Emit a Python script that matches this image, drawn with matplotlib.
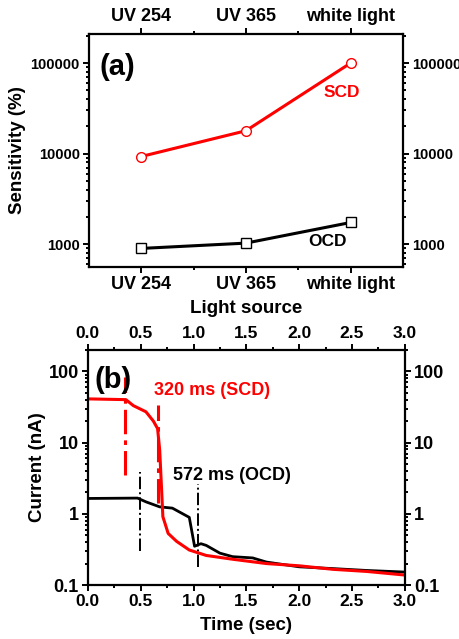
import numpy as np
import matplotlib
matplotlib.use('Agg')
import matplotlib.pyplot as plt

plt.rcParams['font.family'] = ['Liberation Sans', 'DejaVu Sans']
plt.rcParams['font.weight'] = 'bold'

# panel (a): sensitivity per light source
sources = ['UV 254', 'UV 365', 'white light']
scd_sens = [9300, 17900, 100000]
ocd_sens = [900, 1030, 1740]

# panel (b): current transients
scd_t = [0.0, 0.36, 0.43, 0.55, 0.62, 0.66, 0.68, 0.695, 0.71, 0.76, 0.84, 0.96,
         1.12, 1.37, 1.69, 2.0, 2.32, 2.64, 3.0]
scd_i = [41, 40, 33, 27, 20, 15.7, 7.8, 2.7, 0.91, 0.53, 0.41, 0.31,
         0.26, 0.23, 0.20, 0.186, 0.166, 0.155, 0.138]
ocd_t = [0.0, 0.47, 0.55, 0.68, 0.8, 0.96, 1.01, 1.07, 1.12, 1.25, 1.37, 1.56,
         1.69, 2.0, 2.32, 2.64, 3.0]
ocd_i = [1.64, 1.66, 1.47, 1.25, 1.2, 0.89, 0.35, 0.38, 0.36, 0.28, 0.25, 0.24,
         0.21, 0.18, 0.17, 0.16, 0.152]

# response-time markers: (x, ymin, ymax)
scd_marks = [(0.354, 3.5, 83), (0.663, 1.4, 34)]
ocd_marks = [(0.49, 0.30, 3.9), (1.04, 0.18, 2.66)]

RED = '#ff0000'
LABFS = 13.5


def style_axes(ax, xsize, ysize):
    for s in ax.spines.values():
        s.set_linewidth(1.6)
    ax.tick_params(which='both', direction='out', top=True, right=True,
                   labeltop=True, labelright=True, width=1.4, pad=2)
    ax.tick_params(axis='x', labelsize=xsize)
    ax.tick_params(axis='y', labelsize=ysize)
    ax.tick_params(which='major', length=4.5)
    ax.tick_params(which='minor', length=2.5)
    for lab in ax.get_xticklabels() + ax.get_yticklabels():
        lab.set_fontweight('bold')


fig = plt.figure(figsize=(4.6, 6.39), dpi=100)

# ---- (a)
ax1 = fig.add_axes([0.193, 0.582, 0.683, 0.365])
x = np.arange(len(sources))
ax1.plot(x, scd_sens, color=RED, lw=2.2, marker='o', ms=7, mfc='white', mec=RED, mew=1.0)
ax1.plot(x, ocd_sens, color='black', lw=2.2, marker='s', ms=6.5, mfc='white', mec='black', mew=1.0)
ax1.set_yscale('log')
ax1.set_ylim(560, 2.1e5)
ax1.set_xlim(-0.5, 2.5)
ax1.set_xticks(x)
ax1.set_xticklabels(sources)
ax1.set_xticks([0.5, 1.5], minor=True)
ax1.set_yticks([1000, 10000, 100000])
ax1.set_yticklabels(['1000', '10000', '100000'])
style_axes(ax1, 13, 10.5)
ax1.set_xlabel('Light source', fontsize=LABFS, fontweight='bold', labelpad=5)
ax1.set_ylabel('Sensitivity (%)', fontsize=LABFS, fontweight='bold', labelpad=3)
ax1.text(0.035, 0.86, '(a)', transform=ax1.transAxes, fontsize=21,
         fontweight='bold', va='center', ha='left')
ax1.text(1.92, 46800, 'SCD', color=RED, fontsize=12.5, fontweight='bold', ha='center', va='center')
ax1.text(1.78, 1060, 'OCD', color='black', fontsize=12.5, fontweight='bold', ha='center', va='center')

# ---- (b)
ax2 = fig.add_axes([0.191, 0.0845, 0.689, 0.368])
for xm, y0, y1 in scd_marks:
    ax2.plot([xm, xm], [y0, y1], color=RED, lw=2.2, ls=(0, (8, 2, 1.5, 2)))
for xm, y0, y1 in ocd_marks:
    ax2.plot([xm, xm], [y0, y1], color='black', lw=1.4, ls='-.')
ax2.plot(ocd_t, ocd_i, color='black', lw=2.0)
ax2.plot(scd_t, scd_i, color=RED, lw=2.2)
ax2.set_yscale('log')
ax2.set_ylim(0.1, 200)
ax2.set_xlim(0, 3)
ax2.set_xticks(np.arange(0, 3.01, 0.5))
ax2.set_xticks(np.arange(0.25, 3.0, 0.5), minor=True)
ax2.set_yticks([0.1, 1, 10, 100])
ax2.set_yticklabels(['0.1', '1', '10', '100'])
ax2.xaxis.set_major_formatter(matplotlib.ticker.FormatStrFormatter('%.1f'))
style_axes(ax2, 12.5, 13)
ax2.set_xlabel('Time (sec)', fontsize=LABFS, fontweight='bold', labelpad=6)
ax2.set_ylabel('Current (nA)', fontsize=LABFS, fontweight='bold', labelpad=2)
ax2.text(0.02, 0.87, '(b)', transform=ax2.transAxes, fontsize=21,
         fontweight='bold', va='center', ha='left')
ax2.text(0.625, 54, '320 ms (SCD)', color=RED, fontsize=13, fontweight='bold', ha='left', va='center')
ax2.text(0.805, 3.4, '572 ms (OCD)', color='black', fontsize=13, fontweight='bold', ha='left', va='center')

fig.savefig('out.png', dpi=100, facecolor='white')
